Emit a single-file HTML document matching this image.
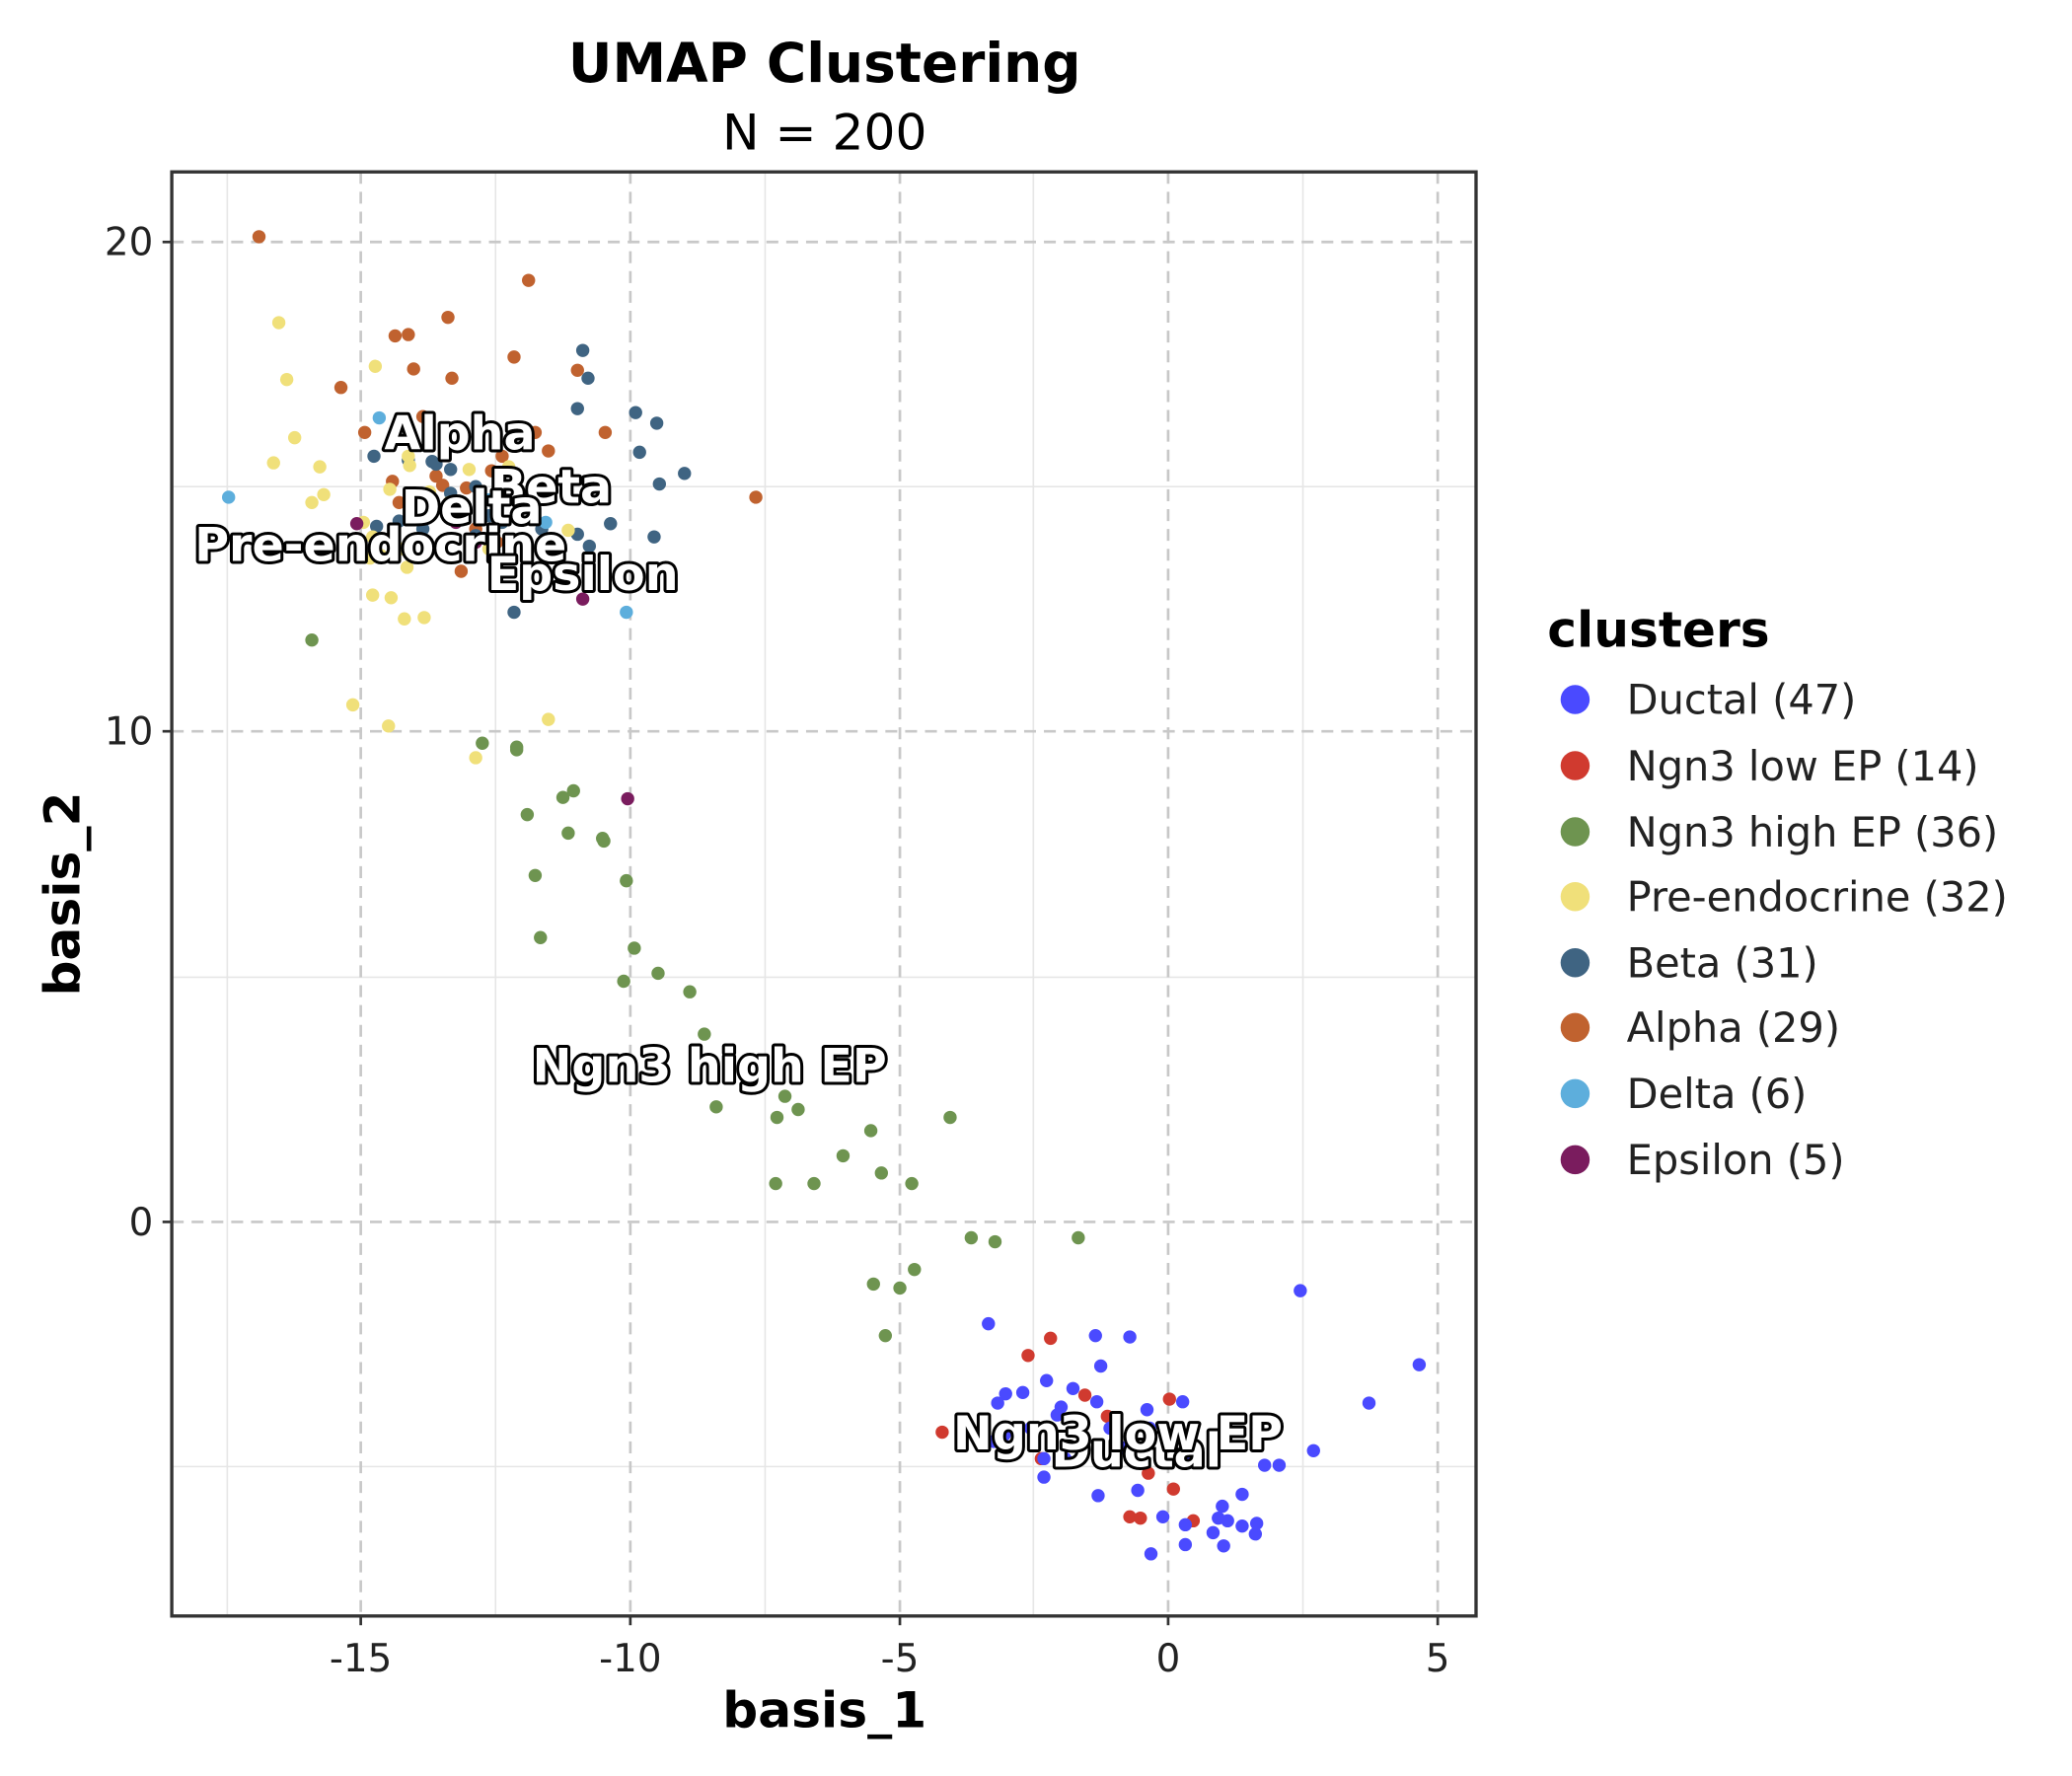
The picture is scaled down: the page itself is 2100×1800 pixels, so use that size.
<!DOCTYPE html>
<html><head><meta charset="utf-8"><style>html,body{margin:0;padding:0;background:#fff}svg{display:block}</style></head><body>
<svg width="2100" height="1800" viewBox="0 0 1568 1343" preserveAspectRatio="none" xmlns="http://www.w3.org/2000/svg" font-family="DejaVu Sans, Liberation Sans, sans-serif">
<rect width="1568" height="1343" fill="#fff"/>
<g stroke="#e6e6e6" stroke-width="1.2">
<line x1="172" y1="130" x2="172" y2="1222"/><line x1="375" y1="130" x2="375" y2="1222"/><line x1="579" y1="130" x2="579" y2="1222"/><line x1="782" y1="130" x2="782" y2="1222"/><line x1="986" y1="130" x2="986" y2="1222"/>
<line x1="130" y1="368" x2="1117" y2="368"/><line x1="130" y1="739" x2="1117" y2="739"/><line x1="130" y1="1109" x2="1117" y2="1109"/>
</g>
<g stroke="#c8c8c8" stroke-width="2" stroke-dasharray="9,6">
<line x1="273" y1="130" x2="273" y2="1222"/><line x1="477" y1="130" x2="477" y2="1222"/><line x1="681" y1="130" x2="681" y2="1222"/><line x1="884" y1="130" x2="884" y2="1222"/><line x1="1088" y1="130" x2="1088" y2="1222"/>
<line x1="130" y1="183" x2="1117" y2="183"/><line x1="130" y1="553" x2="1117" y2="553"/><line x1="130" y1="924" x2="1117" y2="924"/>
</g>
<rect x="130" y="130" width="987" height="1092" fill="none" stroke="#333" stroke-width="2.5"/>
<g stroke="#333" stroke-width="2">
<line x1="273" y1="1222" x2="273" y2="1229"/><line x1="477" y1="1222" x2="477" y2="1229"/><line x1="681" y1="1222" x2="681" y2="1229"/><line x1="884" y1="1222" x2="884" y2="1229"/><line x1="1088" y1="1222" x2="1088" y2="1229"/>
<line x1="123" y1="183" x2="130" y2="183"/><line x1="123" y1="553" x2="130" y2="553"/><line x1="123" y1="924" x2="130" y2="924"/>
</g>
<g font-size="29" fill="#222" text-anchor="middle">
<text x="273" y="1264">-15</text><text x="477" y="1264">-10</text><text x="681" y="1264">-5</text><text x="884" y="1264">0</text><text x="1088" y="1264">5</text>
</g>
<g font-size="29" fill="#222" text-anchor="end">
<text x="116" y="193">20</text><text x="116" y="563">10</text><text x="116" y="934">0</text>
</g>
<text x="624" y="62" font-size="41" font-weight="bold" text-anchor="middle">UMAP Clustering</text>
<text x="624" y="113" font-size="37.5" text-anchor="middle">N = 200</text>
<text x="624" y="1306" font-size="37.5" font-weight="bold" text-anchor="middle">basis_1</text>
<text transform="translate(60,676) rotate(-90)" font-size="37.5" font-weight="bold" text-anchor="middle">basis_2</text>
<g>
<g fill="#C0622F">
<circle cx="196" cy="179" r="5"/><circle cx="400" cy="212" r="5"/><circle cx="339" cy="240" r="5"/><circle cx="299" cy="254" r="5"/><circle cx="309" cy="253" r="5"/><circle cx="389" cy="270" r="5"/><circle cx="437" cy="280" r="5"/><circle cx="313" cy="279" r="5"/><circle cx="342" cy="286" r="5"/><circle cx="258" cy="293" r="5"/><circle cx="276" cy="327" r="5"/><circle cx="458" cy="327" r="5"/><circle cx="415" cy="341" r="5"/><circle cx="405" cy="327" r="5"/><circle cx="372" cy="356" r="5"/><circle cx="297" cy="364" r="5"/><circle cx="335" cy="367" r="5"/><circle cx="353" cy="369" r="5"/><circle cx="572" cy="376" r="5"/><circle cx="349" cy="432" r="5"/><circle cx="320" cy="315" r="5"/><circle cx="390" cy="368" r="5"/><circle cx="380" cy="345" r="5"/><circle cx="350" cy="390" r="5"/><circle cx="302" cy="380" r="5"/><circle cx="392" cy="380" r="5"/><circle cx="376" cy="410" r="5"/><circle cx="360" cy="400" r="5"/><circle cx="330" cy="360" r="5"/>
</g>
<g fill="#3F6482">
<circle cx="441" cy="265" r="5"/><circle cx="445" cy="286" r="5"/><circle cx="437" cy="309" r="5"/><circle cx="481" cy="312" r="5"/><circle cx="497" cy="320" r="5"/><circle cx="484" cy="342" r="5"/><circle cx="518" cy="358" r="5"/><circle cx="499" cy="366" r="5"/><circle cx="283" cy="345" r="5"/><circle cx="309" cy="348" r="5"/><circle cx="327" cy="349" r="5"/><circle cx="341" cy="355" r="5"/><circle cx="330" cy="351" r="5"/><circle cx="360" cy="368" r="5"/><circle cx="341" cy="373" r="5"/><circle cx="327" cy="378" r="5"/><circle cx="462" cy="396" r="5"/><circle cx="437" cy="404" r="5"/><circle cx="446" cy="413" r="5"/><circle cx="495" cy="406" r="5"/><circle cx="389" cy="463" r="5"/><circle cx="302" cy="394" r="5"/><circle cx="370" cy="390" r="5"/><circle cx="350" cy="380" r="5"/><circle cx="410" cy="400" r="5"/><circle cx="380" cy="395" r="5"/><circle cx="340" cy="385" r="5"/><circle cx="320" cy="400" r="5"/><circle cx="400" cy="378" r="5"/><circle cx="285" cy="398" r="5"/><circle cx="360" cy="405" r="5"/>
</g>
<g fill="#F0E07A">
<circle cx="211" cy="244" r="5"/><circle cx="217" cy="287" r="5"/><circle cx="284" cy="277" r="5"/><circle cx="223" cy="331" r="5"/><circle cx="207" cy="350" r="5"/><circle cx="242" cy="353" r="5"/><circle cx="245" cy="374" r="5"/><circle cx="236" cy="380" r="5"/><circle cx="310" cy="352" r="5"/><circle cx="309" cy="345" r="5"/><circle cx="295" cy="370" r="5"/><circle cx="282" cy="406" r="5"/><circle cx="305" cy="415" r="5"/><circle cx="280" cy="422" r="5"/><circle cx="308" cy="429" r="5"/><circle cx="282" cy="450" r="5"/><circle cx="296" cy="452" r="5"/><circle cx="306" cy="468" r="5"/><circle cx="321" cy="467" r="5"/><circle cx="267" cy="533" r="5"/><circle cx="294" cy="549" r="5"/><circle cx="415" cy="544" r="5"/><circle cx="360" cy="573" r="5"/><circle cx="430" cy="401" r="5"/><circle cx="385" cy="353" r="5"/><circle cx="378" cy="360" r="5"/><circle cx="325" cy="372" r="5"/><circle cx="288" cy="420" r="5"/><circle cx="340" cy="380" r="5"/><circle cx="370" cy="415" r="5"/><circle cx="275" cy="395" r="5"/><circle cx="355" cy="355" r="5"/>
</g>
<g fill="#5DAEDC">
<circle cx="173" cy="376" r="5"/><circle cx="287" cy="316" r="5"/><circle cx="413" cy="395" r="5"/><circle cx="474" cy="463" r="5"/><circle cx="370" cy="378" r="5"/><circle cx="310" cy="390" r="5"/>
</g>
<g fill="#7A1C5E">
<circle cx="270" cy="396" r="5"/><circle cx="441" cy="453" r="5"/><circle cx="475" cy="604" r="5"/><circle cx="360" cy="410" r="5"/><circle cx="345" cy="395" r="5"/>
</g>
<g fill="#6E9450">
<circle cx="236" cy="484" r="5"/><circle cx="365" cy="562" r="5"/><circle cx="391" cy="565" r="5"/><circle cx="391" cy="567" r="5"/><circle cx="399" cy="616" r="5"/><circle cx="426" cy="603" r="5"/><circle cx="434" cy="598" r="5"/><circle cx="430" cy="630" r="5"/><circle cx="456" cy="634" r="5"/><circle cx="457" cy="636" r="5"/><circle cx="405" cy="662" r="5"/><circle cx="474" cy="666" r="5"/><circle cx="409" cy="709" r="5"/><circle cx="480" cy="717" r="5"/><circle cx="472" cy="742" r="5"/><circle cx="498" cy="736" r="5"/><circle cx="522" cy="750" r="5"/><circle cx="533" cy="782" r="5"/><circle cx="594" cy="829" r="5"/><circle cx="542" cy="837" r="5"/><circle cx="588" cy="845" r="5"/><circle cx="604" cy="839" r="5"/><circle cx="659" cy="855" r="5"/><circle cx="719" cy="845" r="5"/><circle cx="638" cy="874" r="5"/><circle cx="667" cy="887" r="5"/><circle cx="587" cy="895" r="5"/><circle cx="616" cy="895" r="5"/><circle cx="690" cy="895" r="5"/><circle cx="735" cy="936" r="5"/><circle cx="753" cy="939" r="5"/><circle cx="816" cy="936" r="5"/><circle cx="661" cy="971" r="5"/><circle cx="681" cy="974" r="5"/><circle cx="692" cy="960" r="5"/><circle cx="670" cy="1010" r="5"/>
</g>
<g fill="#D03A2F">
<circle cx="778" cy="1025" r="5"/><circle cx="795" cy="1012" r="5"/><circle cx="821" cy="1055" r="5"/><circle cx="838" cy="1071" r="5"/><circle cx="885" cy="1058" r="5"/><circle cx="713" cy="1083" r="5"/><circle cx="788" cy="1103" r="5"/><circle cx="869" cy="1114" r="5"/><circle cx="888" cy="1126" r="5"/><circle cx="855" cy="1147" r="5"/><circle cx="863" cy="1148" r="5"/><circle cx="903" cy="1150" r="5"/><circle cx="797" cy="1093" r="5"/><circle cx="870" cy="1090" r="5"/>
</g>
<g fill="#4A4AFF">
<circle cx="984" cy="976" r="5"/><circle cx="1074" cy="1032" r="5"/><circle cx="748" cy="1001" r="5"/><circle cx="829" cy="1010" r="5"/><circle cx="855" cy="1011" r="5"/><circle cx="833" cy="1033" r="5"/><circle cx="761" cy="1054" r="5"/><circle cx="755" cy="1061" r="5"/><circle cx="774" cy="1053" r="5"/><circle cx="792" cy="1044" r="5"/><circle cx="812" cy="1050" r="5"/><circle cx="803" cy="1064" r="5"/><circle cx="895" cy="1060" r="5"/><circle cx="868" cy="1066" r="5"/><circle cx="1036" cy="1061" r="5"/><circle cx="752" cy="1090" r="5"/><circle cx="790" cy="1103" r="5"/><circle cx="790" cy="1117" r="5"/><circle cx="806" cy="1103" r="5"/><circle cx="994" cy="1097" r="5"/><circle cx="957" cy="1108" r="5"/><circle cx="968" cy="1108" r="5"/><circle cx="831" cy="1131" r="5"/><circle cx="861" cy="1127" r="5"/><circle cx="880" cy="1147" r="5"/><circle cx="925" cy="1139" r="5"/><circle cx="922" cy="1148" r="5"/><circle cx="929" cy="1150" r="5"/><circle cx="940" cy="1154" r="5"/><circle cx="951" cy="1152" r="5"/><circle cx="950" cy="1160" r="5"/><circle cx="918" cy="1159" r="5"/><circle cx="897" cy="1153" r="5"/><circle cx="897" cy="1168" r="5"/><circle cx="926" cy="1169" r="5"/><circle cx="871" cy="1175" r="5"/><circle cx="800" cy="1070" r="5"/><circle cx="840" cy="1080" r="5"/><circle cx="780" cy="1080" r="5"/><circle cx="820" cy="1095" r="5"/><circle cx="760" cy="1085" r="5"/><circle cx="850" cy="1095" r="5"/><circle cx="810" cy="1085" r="5"/><circle cx="870" cy="1080" r="5"/><circle cx="900" cy="1100" r="5"/><circle cx="940" cy="1130" r="5"/><circle cx="830" cy="1060" r="5"/>
</g>
</g>
<g font-size="35.5" font-weight="bold" fill="#fff" stroke="#000" stroke-width="4.5" paint-order="stroke" stroke-linejoin="round" text-anchor="middle">
<text x="348" y="340">Alpha</text><text x="417" y="380">Beta</text><text x="357" y="396">Delta</text><text x="288" y="424">Pre-endocrine</text><text x="441" y="446">Epsilon</text><text x="537" y="818">Ngn3 high EP</text><text x="860" y="1109">Ductal</text><text x="846" y="1096">Ngn3 low EP</text>
</g>
<text x="1171" y="489" font-size="37.5" font-weight="bold">clusters</text>
<g font-size="31" fill="#222">
<circle cx="1192" cy="529" r="11" fill="#4A4AFF"/><text x="1231" y="540">Ductal (47)</text>
<circle cx="1192" cy="579" r="11" fill="#D03A2F"/><text x="1231" y="590">Ngn3 low EP (14)</text>
<circle cx="1192" cy="629" r="11" fill="#6E9450"/><text x="1231" y="640">Ngn3 high EP (36)</text>
<circle cx="1192" cy="678" r="11" fill="#F0E07A"/><text x="1231" y="689">Pre-endocrine (32)</text>
<circle cx="1192" cy="728" r="11" fill="#3F6482"/><text x="1231" y="739">Beta (31)</text>
<circle cx="1192" cy="777" r="11" fill="#C0622F"/><text x="1231" y="788">Alpha (29)</text>
<circle cx="1192" cy="827" r="11" fill="#5DAEDC"/><text x="1231" y="838">Delta (6)</text>
<circle cx="1192" cy="877" r="11" fill="#7A1C5E"/><text x="1231" y="888">Epsilon (5)</text>
</g>
</svg>
</body></html>
